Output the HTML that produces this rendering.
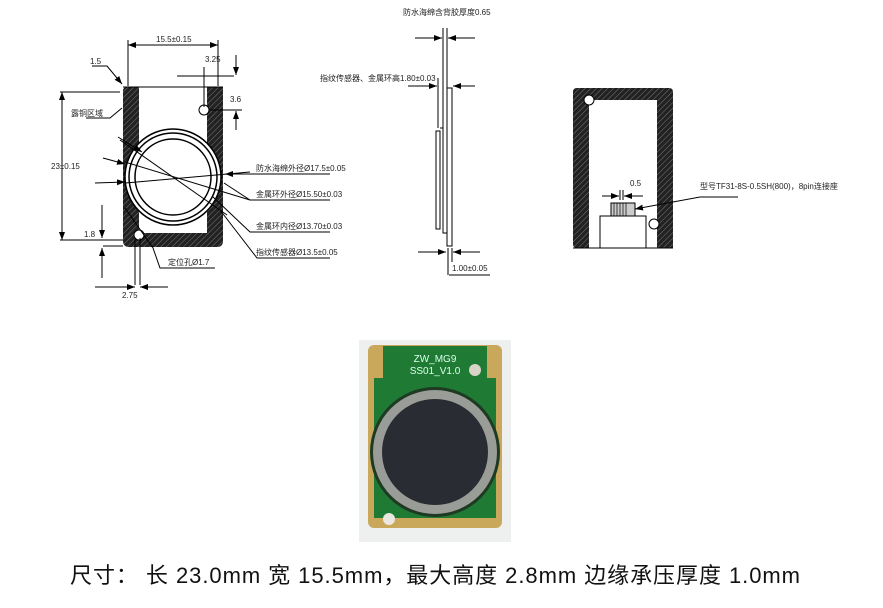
<!DOCTYPE html>
<html><head><meta charset="utf-8"><style>
html,body{margin:0;padding:0;background:#fff;width:883px;height:608px;overflow:hidden}
svg{display:block}
text{font-family:"Liberation Sans","Noto Sans CJK SC",sans-serif;fill:#222}
</style></head><body>
<svg width="883" height="608" viewBox="0 0 883 608" xmlns="http://www.w3.org/2000/svg">
<defs>
<pattern id="h" width="4" height="4" patternUnits="userSpaceOnUse" patternTransform="rotate(45)">
<rect width="4" height="4" fill="#222"/><line x1="0" y1="0" x2="0" y2="4" stroke="#777" stroke-width="1"/>
</pattern>
<marker id="a" markerWidth="8" markerHeight="6" refX="8" refY="3" orient="auto"><path d="M0,0 L8,3 L0,6z" fill="#000"/></marker>
</defs>
<g stroke="#000" fill="none" stroke-width="1">
<path d="M127,87 H139 V233 H207 V87 H223 V241 Q223,247 217,247 H129 Q123,247 123,241 V91 Q123,87 127,87 Z" fill="url(#h)" stroke="none"/>
<line x1="123" y1="87" x2="223" y2="87"/>
<circle cx="173" cy="177" r="48" fill="#fff" stroke-width="1.5"/>
<circle cx="173" cy="177" r="44" stroke-width="1.5"/>
<circle cx="173" cy="177" r="38" stroke-width="1.5"/>
<circle cx="204" cy="110" r="5" fill="#fff"/>
<circle cx="139" cy="235" r="5" fill="#fff"/>
<line x1="128" y1="40" x2="128" y2="86"/><line x1="218" y1="40" x2="218" y2="86"/>
<line x1="128" y1="45" x2="218" y2="45" marker-end="url(#a)"/><line x1="218" y1="45" x2="128" y2="45" marker-end="url(#a)"/>
<line x1="60" y1="92" x2="120" y2="92"/><line x1="60" y1="240" x2="120" y2="240"/>
<line x1="62" y1="92" x2="62" y2="240" marker-end="url(#a)"/><line x1="62" y1="240" x2="62" y2="92" marker-end="url(#a)"/>
<path d="M92,66 H107 L122,84" marker-end="url(#a)"/>
<line x1="177" y1="76" x2="234" y2="76"/><line x1="204" y1="67" x2="204" y2="107"/>
<line x1="236" y1="55" x2="236" y2="75" marker-end="url(#a)"/><line x1="236" y1="130" x2="236" y2="111" marker-end="url(#a)"/>
<line x1="210" y1="110" x2="242" y2="110"/>
<path d="M86,118 H110 L122,108"/>
<line x1="118" y1="137" x2="142" y2="152" marker-end="url(#a)"/>
<line x1="103" y1="158" x2="125" y2="164" marker-end="url(#a)"/>
<line x1="95" y1="183" x2="125" y2="182" marker-end="url(#a)"/>
<line x1="120" y1="140" x2="227" y2="215"/>
<line x1="125" y1="162" x2="250" y2="200"/>
<line x1="125" y1="183" x2="250" y2="172"/>
<line x1="330" y1="174" x2="225" y2="174" marker-end="url(#a)"/>
<path d="M330,200 H250 L224,183"/>
<path d="M330,232 H250 L212,196"/>
<path d="M330,258 H257 L220,210"/>
<path d="M125,208 L153,248 L160,268 H215"/>
<line x1="103" y1="240" x2="123" y2="240"/><line x1="103" y1="246" x2="123" y2="246"/>
<line x1="102" y1="205" x2="102" y2="238" marker-end="url(#a)"/><line x1="102" y1="278" x2="102" y2="248" marker-end="url(#a)"/>
<line x1="135" y1="238" x2="135" y2="285"/><line x1="140" y1="238" x2="140" y2="285"/>
<line x1="95" y1="287" x2="135" y2="287" marker-end="url(#a)"/><line x1="168" y1="287" x2="140" y2="287" marker-end="url(#a)"/>
<line x1="443" y1="28" x2="443" y2="145"/><line x1="447" y1="28" x2="447" y2="90"/>
<line x1="415" y1="38" x2="442" y2="38" marker-end="url(#a)"/><line x1="475" y1="38" x2="448" y2="38" marker-end="url(#a)"/>
<line x1="438" y1="78" x2="438" y2="128"/>
<line x1="408" y1="86" x2="437" y2="86" marker-end="url(#a)"/><line x1="475" y1="86" x2="453" y2="86" marker-end="url(#a)"/>
<rect x="436" y="131" width="4" height="98"/>
<path d="M440,128 H443 V233 H447 V246"/>
<rect x="447" y="88" width="5" height="158"/>
<line x1="418" y1="252" x2="446" y2="252" marker-end="url(#a)"/><line x1="480" y1="252" x2="453" y2="252" marker-end="url(#a)"/>
<line x1="448" y1="248" x2="448" y2="275"/><line x1="452" y1="248" x2="452" y2="262"/>
<line x1="449" y1="275" x2="490" y2="275"/>
<path d="M577,88 H669 Q673,88 673,92 V248 H657 V100 H589 V248 H577 Q573,248 573,244 V92 Q573,88 577,88 Z" fill="url(#h)" stroke="none"/>
<line x1="573" y1="248" x2="673" y2="248"/>
<circle cx="589" cy="100" r="5" fill="#fff"/>
<circle cx="654" cy="224" r="5" fill="#fff"/>
<rect x="600" y="216" width="46" height="32"/>
<rect x="611" y="203" width="24" height="13" fill="#ccc"/>
<g stroke-width="0.7"><line x1="614" y1="203" x2="614" y2="216"/><line x1="617" y1="203" x2="617" y2="216"/><line x1="620" y1="203" x2="620" y2="216"/><line x1="623" y1="203" x2="623" y2="216"/><line x1="626" y1="203" x2="626" y2="216"/></g>
<line x1="620" y1="190" x2="620" y2="200"/><line x1="623" y1="190" x2="623" y2="200"/>
<line x1="602" y1="196" x2="619" y2="196" marker-end="url(#a)"/><line x1="643" y1="196" x2="624" y2="196" marker-end="url(#a)"/>
<path d="M738,197 H700 L635,209" marker-end="url(#a)"/>
</g>
<g font-size="8">
<text x="156" y="42">15.5±0.15</text>
<text x="90" y="64">1.5</text>
<text x="205" y="62">3.25</text>
<text x="230" y="102">3.6</text>
<text x="71" y="116">露铜区域</text>
<text x="51" y="169">23±0.15</text>
<text x="256" y="171">防水海绵外径Ø17.5±0.05</text>
<text x="256" y="197">金属环外径Ø15.50±0.03</text>
<text x="256" y="229">金属环内径Ø13.70±0.03</text>
<text x="256" y="255">指纹传感器Ø13.5±0.05</text>
<text x="84" y="237">1.8</text>
<text x="168" y="265">定位孔Ø1.7</text>
<text x="122" y="298">2.75</text>
<text x="403" y="15">防水海绵含背胶厚度0.65</text>
<text x="320" y="81">指纹传感器、金属环高1.80±0.03</text>
<text x="452" y="271">1.00±0.05</text>
<text x="630" y="186">0.5</text>
<text x="700" y="189">型号TF31-8S-0.5SH(800)，8pin连接座</text>
</g>
<rect x="359" y="340" width="152" height="202" fill="#eef0f0"/>
<rect x="368" y="345" width="134" height="183" rx="6" fill="#c9a85c"/>
<rect x="383" y="346" width="104" height="170" fill="#1f7a33"/>
<rect x="374" y="378" width="122" height="140" fill="#1f7a33"/>
<circle cx="475" cy="370" r="6" fill="#d8d5c8"/>
<circle cx="389" cy="519" r="6" fill="#eae8e0"/>
<circle cx="435" cy="452" r="65" fill="#1e3a22"/>
<circle cx="435" cy="452" r="62" fill="#9a9c98"/>
<circle cx="435" cy="452" r="53" fill="#2a2c33"/>
<text x="435" y="362" font-size="10" text-anchor="middle" style="fill:#dfe">ZW_MG9</text>
<text x="435" y="374" font-size="10" text-anchor="middle" style="fill:#dfe">SS01_V1.0</text>
<text x="70" y="583" font-size="22" textLength="730" lengthAdjust="spacing" style="fill:#111">尺寸：  长 23.0mm 宽 15.5mm，最大高度 2.8mm 边缘承压厚度 1.0mm</text>
</svg>
</body></html>
